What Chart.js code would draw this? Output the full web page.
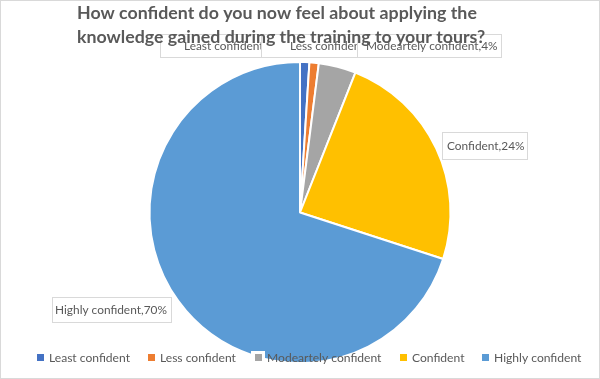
<!DOCTYPE html>
<html><head><meta charset="utf-8">
<script src="https://cdn.jsdelivr.net/npm/chart.js@4"></script>
<style>html,body{margin:0;padding:0;background:#fff}#wrap{width:600px;height:379px;position:relative}</style>
</head><body><div id="wrap"><canvas id="c" width="600" height="379"></canvas></div>
<script>
const categories = ['Least confident', 'Less confident', 'Modeartely confident', 'Confident', 'Highly confident'];
const percentages = [1, 1, 4, 24, 70];
const sliceColors = ['#4472C4', '#ED7D31', '#A5A5A5', '#FFC000', '#5B9BD5'];
const titleLines = ['How confident do you now feel about applying the', 'knowledge gained during the training to your tours?'];

// label box layout: [left, top, right, bottom, textX]
const labelBoxes = [
  [160, 34, 300, 57, 184],
  [261, 34, 380, 57, 290],
  [357, 34, 501, 57, 366],
  [442, 132, 527, 159, 447],
  [52, 297, 171, 322, 55]
];
const legendMarkerX = [37, 148, 255, 400, 482];
const FONT = 'Lato, "Open Sans", sans-serif';
const TEXT_COLOR = '#595959';

function fitSize(ctx, text, target, weight) {
  ctx.font = `${weight} 20px ${FONT}`;
  const w = ctx.measureText(text).width;
  return 20 * target / w;
}

const overlay = {
  id: 'overlay',
  afterDraw(chart) {
    const ctx = chart.ctx;
    ctx.save();
    // data labels
    const labSize = fitSize(ctx, 'Highly confident,70%', 112, 'normal');
    ctx.font = `normal ${labSize}px ${FONT}`;
    ctx.textBaseline = 'middle';
    ctx.textAlign = 'left';
    categories.forEach((c, i) => {
      const [l, t, r, b, tx] = labelBoxes[i];
      ctx.fillStyle = '#fff';
      ctx.fillRect(l, t, r - l, b - t);
      ctx.strokeStyle = '#d9d9d9';
      ctx.lineWidth = 1;
      ctx.strokeRect(l + 0.5, t + 0.5, r - l, b - t);
      ctx.fillStyle = TEXT_COLOR;
      ctx.fillText(`${c},${percentages[i]}%`, tx, (t + b) / 2 + 1);
    });
    // title
    const tSize = fitSize(ctx, titleLines[0], 400, 'bold');
    ctx.font = `bold ${tSize}px ${FONT}`;
    ctx.fillStyle = TEXT_COLOR;
    ctx.fillText(titleLines[0], 77, 13);
    ctx.fillText(titleLines[1], 77, 37);
    // legend
    const lgSize = fitSize(ctx, 'Least confident', 81, 'normal');
    ctx.font = `normal ${lgSize}px ${FONT}`;
    categories.forEach((c, i) => {
      const x = legendMarkerX[i];
      if (i === 2) { ctx.fillStyle = '#fff'; ctx.fillRect(x - 4, 351, 14, 14); }
      ctx.fillStyle = sliceColors[i];
      ctx.fillRect(x, 354, 7, 7);
      ctx.fillStyle = TEXT_COLOR;
      ctx.fillText(c, x + 12, 358);
    });
    // chart border
    ctx.strokeStyle = '#d9d9d9';
    ctx.lineWidth = 1;
    ctx.strokeRect(0.5, 0.5, 599, 378);
    ctx.restore();
  }
};

new Chart(document.getElementById('c'), {
  type: 'pie',
  data: {
    labels: categories,
    datasets: [{ data: percentages, backgroundColor: sliceColors, borderColor: '#ffffff', borderWidth: 2 }]
  },
  options: {
    responsive: false,
    animation: false,
    layout: { padding: { top: 61, bottom: 15, left: 0, right: 0 } },
    plugins: { legend: { display: false }, title: { display: false }, tooltip: { enabled: false } }
  },
  plugins: [overlay]
});
</script></body></html>
